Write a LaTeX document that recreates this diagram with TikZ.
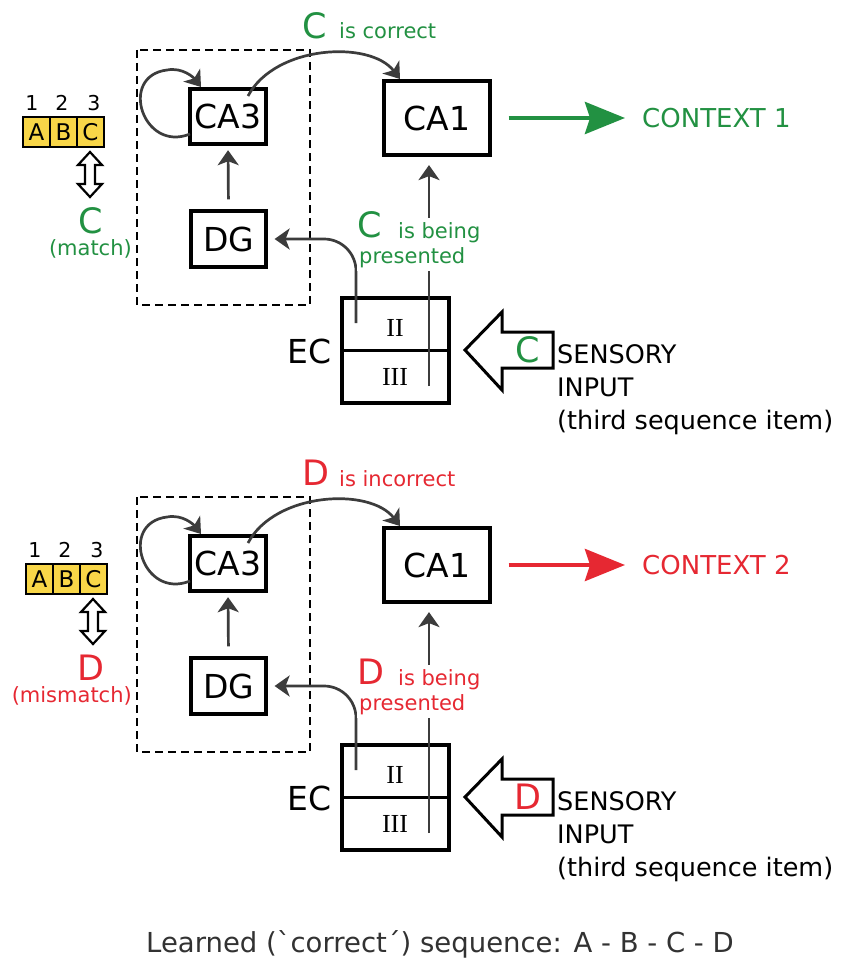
\documentclass[tikz,border=0pt]{standalone}
\usepackage{fontspec}
\setmainfont{DejaVu Sans}
\newfontfamily\seriffont{Liberation Serif}
\usetikzlibrary{arrows.meta}
\definecolor{mygreen}{RGB}{34,145,66}
\definecolor{myred}{RGB}{230,40,50}
\definecolor{conncol}{RGB}{60,60,60}
\definecolor{myyellow}{RGB}{248,214,72}
\definecolor{txtgray}{RGB}{50,50,50}
\newcommand\fs[1]{\fontsize{#1}{#1}\selectfont}
\tikzset{
  regionbox/.style={draw=black, line width=3.2pt, inner sep=0pt, font=\fs{33}},
  dashedbox/.style={draw=black, line width=2.8pt, dash pattern=on 8pt off 5pt},
  connarrow/.style={draw=conncol, line width=2.7pt, -{Stealth[length=15pt,width=21pt,inset=4pt]}},
  ctxarrow/.style={draw=#1, line width=4pt, -{Stealth[length=40pt,width=32pt,inset=5pt]}},
  cell/.style={draw=black, line width=2.2pt, fill=myyellow, minimum width=27pt, minimum height=30pt, inner sep=0pt, font=\fs{23}},
  numlab/.style={font=\fs{20.5}, inner sep=0pt},
  biglet/.style={font=\fs{35}, inner sep=0pt},
  smalltxt/.style={font=\fs{21}, inner sep=0pt},
  sensetxt/.style={font=\fs{25.5}, inner sep=0pt, anchor=base west},
  hollow/.style={draw=black, line width=3pt, line join=miter, fill=white},
}
% #1 suffix, #2 colour, #3 letter, #4 comparison word, #5 correctness word, #6 context no., #7 yshift, #8 abc xshift
\newcommand\mypanel[8]{%
\begin{scope}[yshift=#7]
  \draw[dashedbox] (137,50) rectangle (310,305);
  \node[regionbox, minimum width=76pt, minimum height=55pt] (ca3#1) at (228,116.5) {CA3};
  \node[regionbox, minimum width=75pt, minimum height=56pt] (dg#1) at (228.5,239) {DG};
  \node[regionbox, minimum width=106pt, minimum height=74pt] (ca1#1) at (437,118) {CA1};
  \node[regionbox, minimum width=107pt, minimum height=105pt] (ec#1) at (395.5,350.5) {};
  \draw[line width=3pt] (ec#1.west) -- (ec#1.east);
  \node[font=\seriffont\fs{26}, inner sep=0pt] (ecii#1) at (395,328) {II};
  \node[font=\seriffont\fs{26}, inner sep=0pt] (eciii#1) at (395,377) {III};
  \node[font=\fs{33}, inner sep=0pt, anchor=base east] (eclab#1) at (332,363) {EC};
  % connectors
  \coordinate (ecout#1) at (356,323);
  \coordinate (ecthree#1) at (429,386);
  \draw[connarrow, rounded corners=32pt, shorten >=7pt] (ecout#1) |- (dg#1.east);
  \draw[connarrow, shorten >=8.5pt] (ecthree#1) -- (ecthree#1 |- ca1#1.south);
  \draw[connarrow, shorten <=10pt, shorten >=4.6pt] (dg#1.north) -- (ca3#1.south);
  \coordinate (ca3out#1) at (248,96);
  \coordinate (ca1in#1) at (400,79);
  \draw[connarrow] (ca3out#1) .. controls (275,45) and (370,40) .. (ca1in#1);
  \coordinate (loopa#1) at (190,134);
  \coordinate (loopm#1) at (167,70);
  \coordinate (loopb#1) at (201,87);
  \draw[connarrow] (loopa#1) .. controls (143,153) and (118,76) .. (loopm#1) .. controls (183,67) and (194,78) .. (loopb#1);
  % context arrow
  \node[font=\fs{26}, text=#2, inner sep=0pt, anchor=west] (ctx#1) at (642,118) {CONTEXT #6};
  \draw[ctxarrow=#2] ([xshift=17pt]ca1#1.east) -- ([xshift=-17pt]ctx#1.west);
  % labels
  \node[biglet, text=#2, anchor=base west] (lettop#1) at (302,38) {#3};
  \node[smalltxt, text=#2, anchor=base west] (corr#1) at (339,39) {is #5};
  \node[biglet, text=#2, anchor=base west] (letmid#1) at (357,237) {#3};
  \node[smalltxt, text=#2, anchor=base west, fill=white, inner xsep=2pt, inner ysep=4pt] (being#1) at (396,238) {is being};
  \node[smalltxt, text=#2, anchor=base west, fill=white, inner xsep=2pt, inner ysep=4pt] (pres#1) at (357,263) {presented};
  % sensory input
  \draw[hollow] (465,350) -- (502,312) -- (502,332) -- (553,332) -- (553,368) -- (502,368) -- (502,390) -- cycle;
  \node[biglet, text=#2] (letin#1) at (528,350) {#3};
  \node[sensetxt] (sens#1) at (557,363) {SENSORY};
  \node[sensetxt] (inp#1) at (557,396) {INPUT};
  \node[sensetxt] (third#1) at (557,429) {(third sequence item)};
  % learned sequence boxes
  \begin{scope}[xshift=#8]
    \node[numlab] (n1#1) at (32,103) {1};
    \node[numlab] (n2#1) at (62,103) {2};
    \node[numlab] (n3#1) at (94,103) {3};
    \node[cell] (ca#1) at (36.5,132) {A};
    \node[cell] (cb#1) at (63.5,132) {B};
    \node[cell] (cc#1) at (90.5,132) {C};
    \draw[hollow, line width=2.2pt] (90,152) -- (102,165) -- (95,165) -- (95,184) -- (102,184) -- (90,197) -- (78,184) -- (85,184) -- (85,165) -- (78,165) -- cycle;
  \end{scope}
  \node[biglet, text=#2, anchor=base] (cmp#1) at (91,233) {#3};
  \node[font=\fs{21}, text=#2, inner sep=0pt, anchor=base east] (cmpw#1) at (132,255) {(#4)};
\end{scope}}
\begin{document}
\begin{tikzpicture}[x=1pt, y=-1pt]
  \fill[white] (0,0) rectangle (841,966);
  \useasboundingbox (0,0) rectangle (841,966);
  \mypanel{t}{mygreen}{C}{match}{correct}{1}{0pt}{0pt}
  \mypanel{b}{myred}{D}{mismatch}{incorrect}{2}{-447pt}{3pt}
  \node[font=\fs{27.5}, text=txtgray, inner sep=0pt, anchor=base] (learned) at (440,952) {Learned (ˋcorrect´) sequence: A - B - C - D};
\end{tikzpicture}
\end{document}
